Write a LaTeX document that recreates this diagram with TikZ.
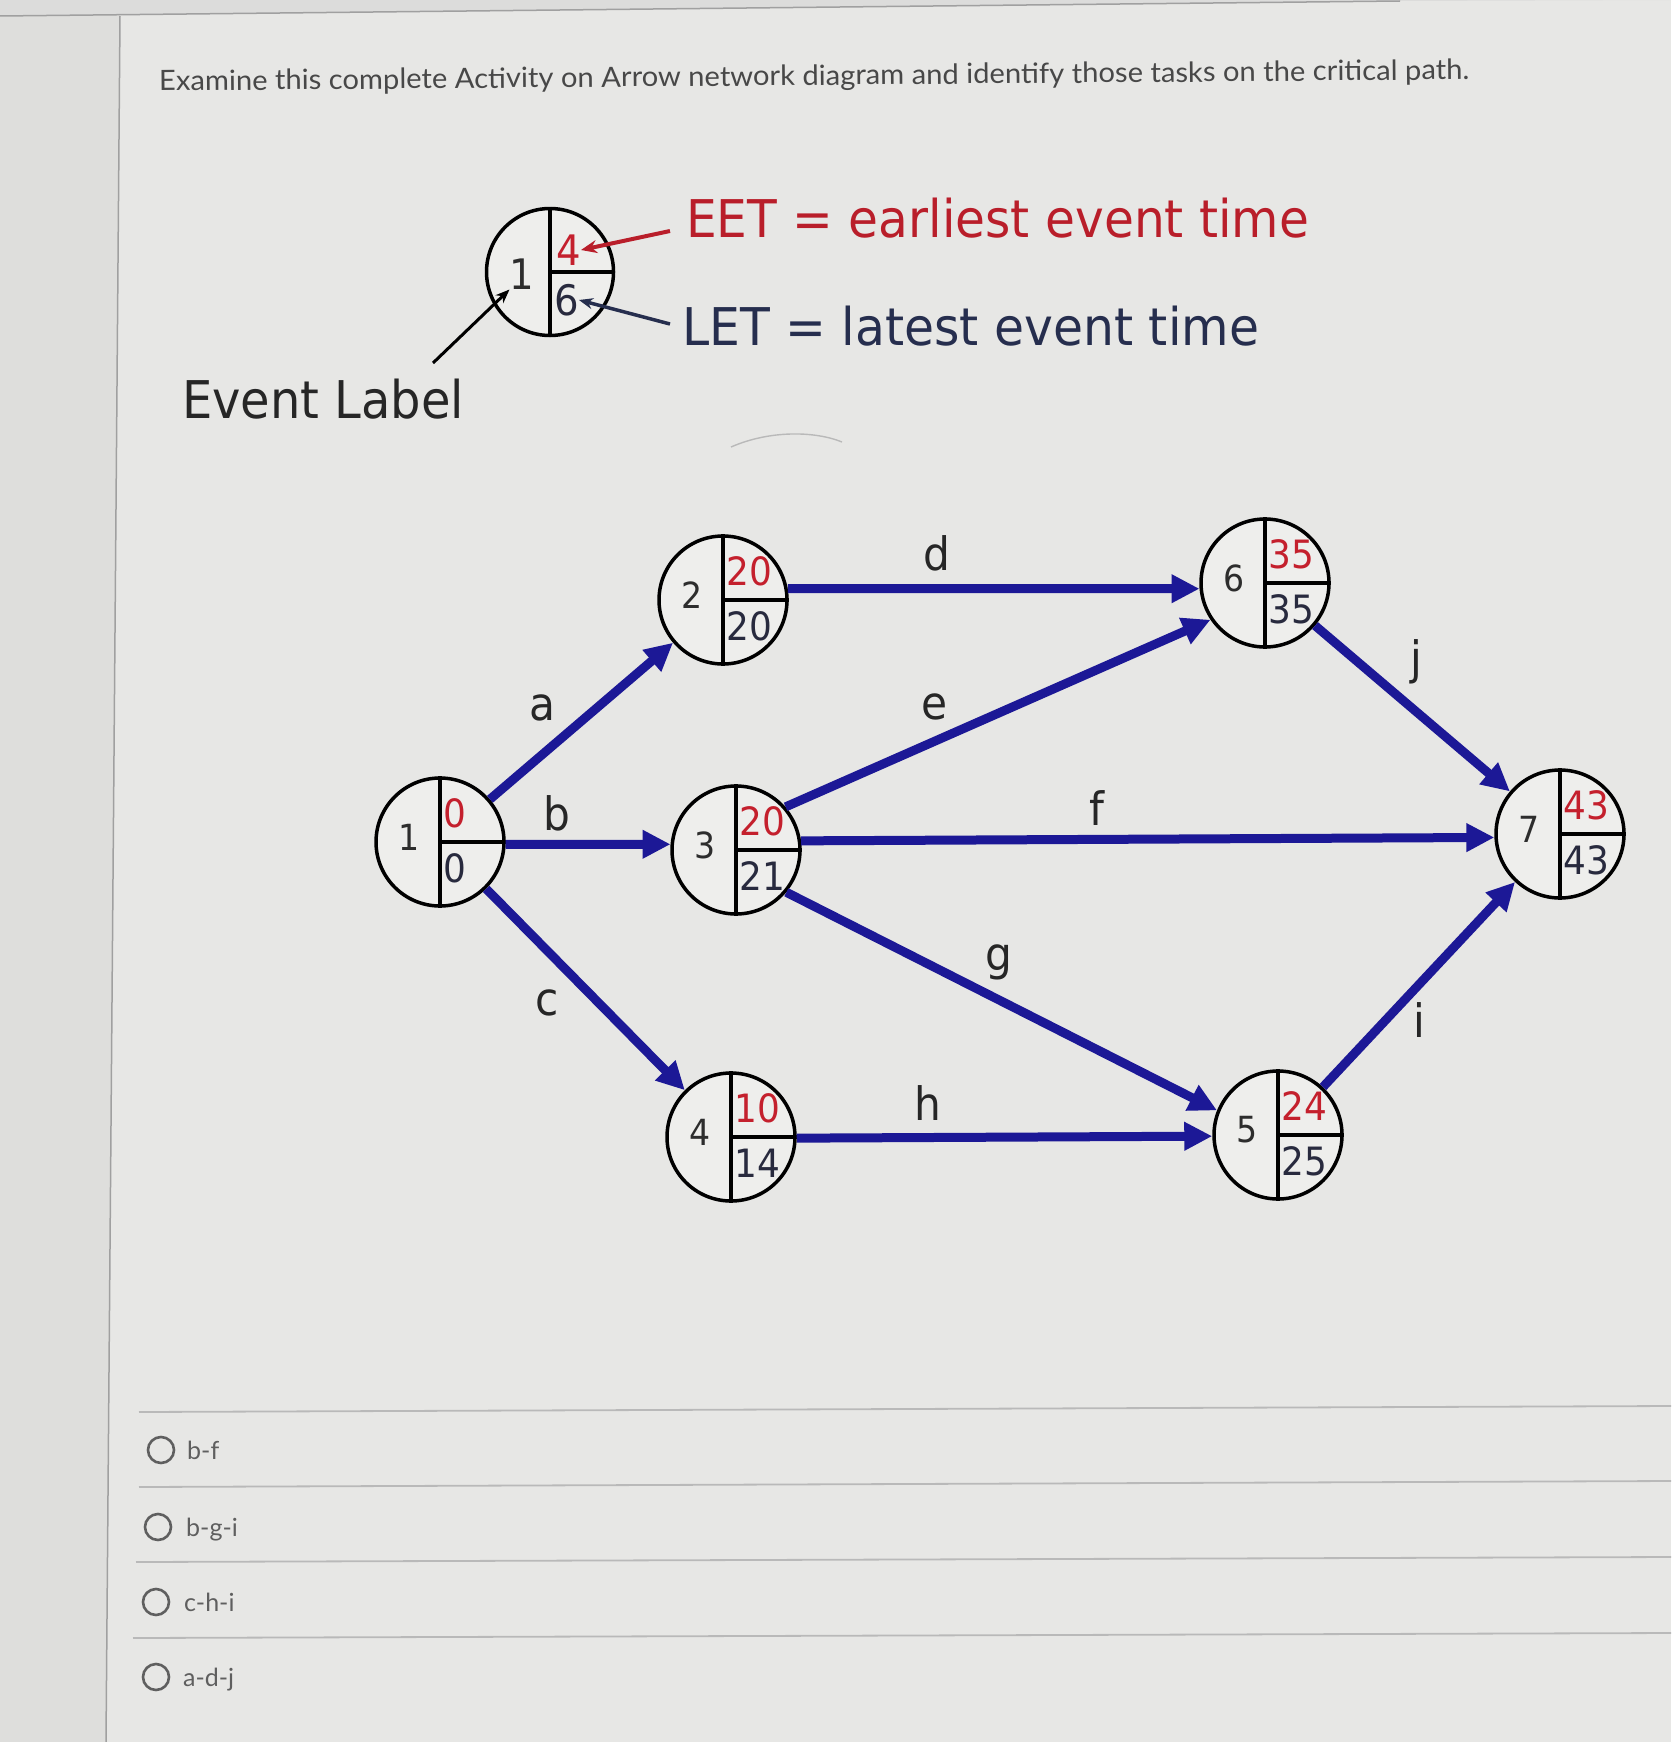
\documentclass[tikz,border=0pt]{standalone}
\usepackage{fontspec}
\usepackage{graphicx}
\usetikzlibrary{arrows.meta,calc}
\newfontfamily\diagf[FakeStretch=0.92]{DejaVu Sans}
\newfontfamily\latof{Lato}
\definecolor{bgmain}{RGB}{231,231,229}
\definecolor{bgleft}{RGB}{222,222,220}
\definecolor{bgtop}{RGB}{220,220,219}
\definecolor{pageline}{RGB}{160,160,160}
\definecolor{nodefill}{RGB}{238,238,236}
\definecolor{eetred}{RGB}{196,32,45}
\definecolor{letdark}{RGB}{40,42,62}
\definecolor{numgray}{RGB}{45,45,45}
\definecolor{edgeblue}{RGB}{28,24,150}
\definecolor{labgray}{RGB}{38,38,38}
\definecolor{titlegray}{RGB}{72,72,72}
\definecolor{legred}{RGB}{185,30,42}
\definecolor{legnavy}{RGB}{38,46,78}
\definecolor{ansgray}{RGB}{95,95,95}
\definecolor{sepgray}{RGB}{185,185,185}
\tikzset{
  evt/.style={circle, draw=black, line width=3.5pt, minimum size=128pt, inner sep=0pt, fill=nodefill},
  divl/.style={line width=3.5pt, draw=black},
  numtxt/.style={font=\diagf\fontsize{36}{40}\selectfont, text=numgray, inner sep=0pt},
  eettxt/.style={font=\diagf\fontsize{39}{42}\selectfont, text=eetred, inner sep=0pt, anchor=west},
  lettxt/.style={font=\diagf\fontsize{39}{42}\selectfont, text=letdark, inner sep=0pt, anchor=west},
  edge/.style={line width=9pt, draw=edgeblue, -{Triangle[length=28pt,width=27pt]}},
  elab/.style={font=\diagf\fontsize{46}{50}\selectfont, text=labgray, inner sep=0pt},
  legdig/.style={font=\diagf\fontsize{42}{46}\selectfont, inner sep=0pt},
  legtxt/.style={inner sep=0pt, anchor=base west},
  radio/.style={circle, draw=ansgray, line width=2.6pt, minimum size=26pt, inner sep=0pt},
  anstxt/.style={font=\latof\fontsize{25}{30}\selectfont, text=ansgray, inner sep=0pt, anchor=base west},
  sepline/.style={draw=sepgray, line width=1.8pt},
}
\newcommand\evnode[6]{%
  \node[evt] (#1) at (#2,#3) {};
  \draw[divl] (#1.north) -- (#1.south) (#1.center) -- (#1.east);
  \node[numtxt] (#1num) at ($(#1)+(-31,-5)$) {#4};
  \node[eettxt] (#1eet) at ($(#1)+(3,-29)$) {#5};
  \node[lettxt] (#1let) at ($(#1)+(3,26)$) {#6};
}
\begin{document}
\begin{tikzpicture}[x=1pt,y=-1pt]
\useasboundingbox (0,0) rectangle (1671,1742);
% background
\fill[bgmain] (0,0) rectangle (1671,1742);
\fill[bgleft] (0,0) -- (120,0) -- (106,1742) -- (0,1742) -- cycle;
\fill[bgtop] (0,0) -- (1671,0) -- (1400,1) -- (0,16) -- cycle;
\draw[pageline, line width=1.5pt] (0,16) -- (1400,1);
\draw[pageline, line width=1.5pt] (120,16) -- (106,1742);
% title
\node[anchor=base west, rotate=0.5, inner sep=0pt, text=titlegray] (title) at (159,91)
  {\resizebox{1310pt}{\height}{\latof\fontsize{28}{32}\selectfont Examine this complete Activity on Arrow network diagram and identify those tasks on the critical path.}};
% legend
\node[evt, minimum size=127pt] (lg) at (550,272) {};
\draw[divl] (lg.north) -- (lg.south) (lg.center) -- (lg.east);
\node[legdig, text=numgray] (lgnum) at (522,274) {1};
\node[legdig, text=eetred, anchor=west] (lgeet) at (556,250) {4};
\node[legdig, text=letdark, anchor=west] (lglet) at (554,300) {6};
\node[legtxt, text=legred] (eet) at (686,237) {\resizebox{623pt}{\height}{\diagf\fontsize{52}{60}\selectfont EET = earliest event time}};
\node[legtxt, text=legnavy] (let) at (682,345) {\resizebox{577pt}{\height}{\diagf\fontsize{52}{60}\selectfont LET = latest event time}};
\node[legtxt, text=labgray] (evl) at (182,418) {\resizebox{282pt}{\height}{\diagf\fontsize{52}{60}\selectfont Event Label}};
\coordinate (eetA) at (670,231);
\coordinate (letA) at (670,324);
\coordinate (evlA) at (433,363);
\draw[legred, line width=4pt, -{Stealth[length=16pt,width=13pt]}] (eetA) -- (lgeet.east);
\draw[legnavy, line width=3.5pt, -{Stealth[length=14pt,width=11pt]}] (letA) -- (lglet.east);
\draw[black, line width=3pt, -{Stealth[length=14pt,width=11pt]}] (evlA) -- ($(lg)!1!(lgnum.south west)$);
% faint arc
\draw[gray!55, line width=1.4pt] (731,447) .. controls (770,430) and (815,431) .. (842,442);
% events
\evnode{n1}{440}{842}{1}{0}{0}
\evnode{n2}{723}{600}{2}{20}{20}
\evnode{n3}{736}{850}{3}{20}{21}
\evnode{n4}{731}{1137}{4}{10}{14}
\evnode{n5}{1278}{1135}{5}{24}{25}
\evnode{n6}{1265}{583}{6}{35}{35}
\evnode{n7}{1560}{834}{7}{43}{43}
% activities
\draw[edge] (n1) -- (n2);
\draw[edge] (n1.-2) -- (n3.175);
\draw[edge] (n1) -- (n4);
\draw[edge] (n2.10) -- (n6.185);
\draw[edge] (n3.41) -- (n6.214);
\draw[edge] (n3.8) -- (n7.183);
\draw[edge] (n3.-40) -- (n5.158);
\draw[edge] (n4.-1) -- (n5.181);
\draw[edge] (n5) -- (n7);
\draw[edge] (n6) -- (n7);
% activity labels
\node[elab] (la) at (542,708) {a};
\node[elab] (lb) at (557,813) {b};
\node[elab] (lc) at (547,1003) {c};
\node[elab] (ld) at (937,553) {d};
\node[elab] (le) at (935,707) {e};
\node[elab] (lf) at (1097,808) {f};
\node[elab] (lgg) at (999,962) {g};
\node[elab] (lh) at (928,1103) {h};
\node[elab] (li) at (1419,1020) {i};
\node[elab] (lj) at (1416,662) {j};
% answers
\draw[sepline] (139,1412) -- (1671,1406);
\draw[sepline] (139,1487) -- (1671,1481);
\draw[sepline] (136,1562) -- (1671,1557);
\draw[sepline] (133,1638) -- (1671,1633);
\node[radio] (r1) at (161,1450) {};
\node[radio] (r2) at (158,1527) {};
\node[radio] (r3) at (156,1602) {};
\node[radio] (r4) at (156,1677) {};
\node[anstxt] (a1) at (187,1459) {b-f};
\node[anstxt] (a2) at (186,1536) {b-g-i};
\node[anstxt] (a3) at (184,1611) {c-h-i};
\node[anstxt] (a4) at (183,1686) {a-d-j};
\end{tikzpicture}
\end{document}
